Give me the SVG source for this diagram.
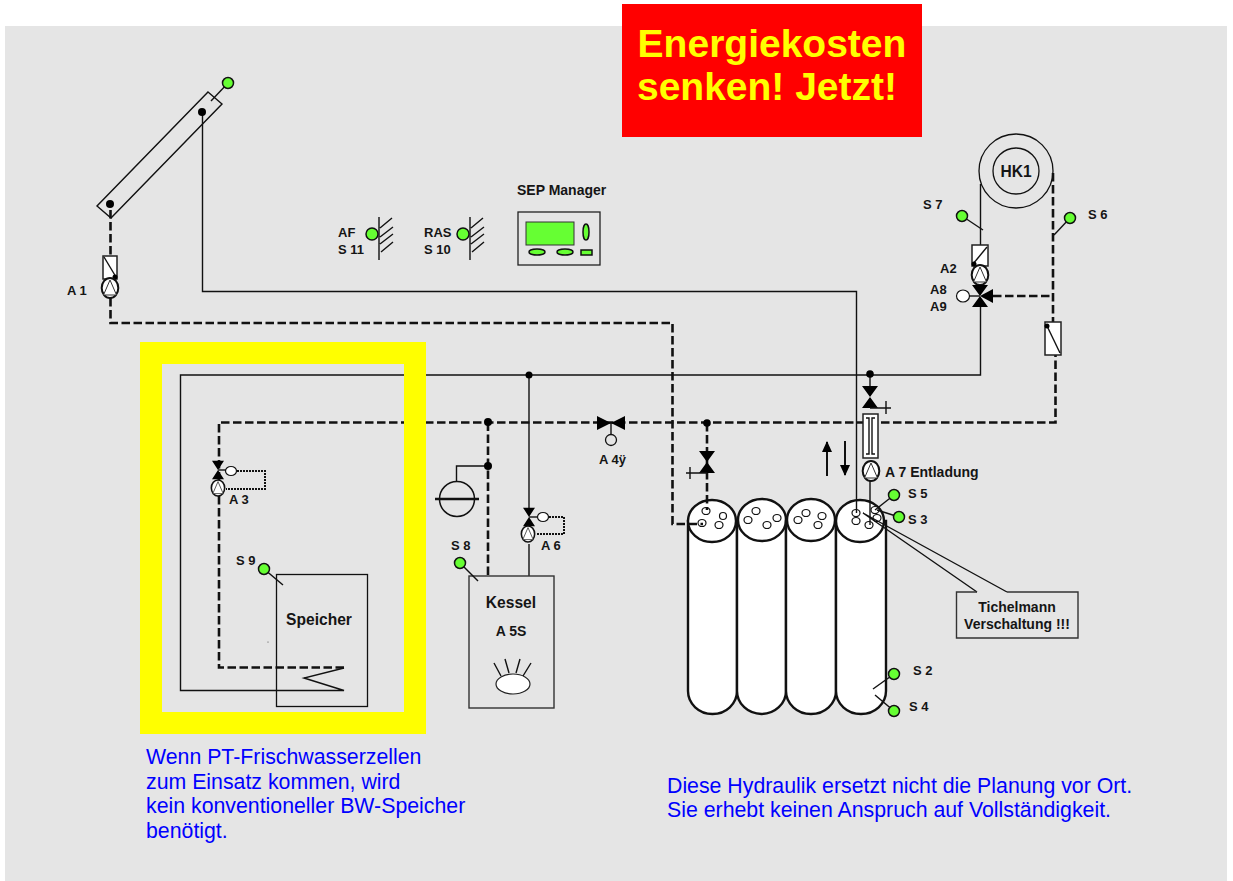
<svg xmlns="http://www.w3.org/2000/svg" width="1233" height="881" viewBox="0 0 1233 881">
<style>
text{font-family:"Liberation Sans",Arial,sans-serif;font-weight:bold;font-size:13px;fill:#151515}
.blue{font-weight:normal;font-size:21.3px;fill:#0000ff}
.big{font-size:39px;fill:#ffff00;text-anchor:middle}
.m{text-anchor:middle}
.t14{font-size:15.600px}
.l14{font-size:14px}
.s{fill:none;stroke:#111;stroke-width:1.4}
.d{fill:none;stroke:#111;stroke-width:2.6;stroke-dasharray:8.5 3.5}
.o{fill:none;stroke:#111;stroke-width:2;stroke-dasharray:2 1}
.w{fill:#fff;stroke:#222;stroke-width:1.5}
.k{fill:#000;stroke:none}
.g{fill:#66ff33;stroke:#111;stroke-width:1.5}
.h{fill:#fff;stroke:#111;stroke-width:1.2}
.tank{fill:#fff;stroke:#111;stroke-width:2.4}
.f{fill:none;stroke:#111;stroke-width:1.4}
</style>
<defs>
<g id="pump"><ellipse cx="0" cy="0" rx="8.300" ry="10" fill="#fff" stroke="#111" stroke-width="2"/><path d="M0,-8 L6.500,7 H-6.500 Z" fill="#fff" stroke="#333" stroke-width="1"/></g>
<g id="valve"><path d="M-8,-11 H8 L0,0 Z M-8,11 H8 L0,0 Z" class="k"/></g>
</defs>
<rect x="5" y="26" width="1222" height="855" fill="#e5e5e5"/>

<g id="tanks">
<path class="tank" d="M688,521 V691 A24.500,23 0 0 0 737,691 V521 Z"/><ellipse class="tank" cx="712" cy="521" rx="24" ry="21"/>
<path class="tank" d="M737,521 V691 A24.500,23 0 0 0 786,691 V521 Z"/><ellipse class="tank" cx="762" cy="520" rx="24" ry="21"/>
<path class="tank" d="M786,521 V691 A25,23 0 0 0 836,691 V521 Z"/><ellipse class="tank" cx="811" cy="520" rx="24" ry="21"/>
<path class="tank" d="M836,521 V691 A25,23 0 0 0 886,691 V521 Z"/><ellipse class="tank" cx="860" cy="521" rx="24" ry="21"/>
<g class="h">
<ellipse cx="706" cy="511" rx="4" ry="3.500"/><ellipse cx="723" cy="516" rx="3.500" ry="3.500"/><ellipse cx="702" cy="523" rx="4" ry="3.500"/><ellipse cx="719" cy="525" rx="4" ry="3.500"/>
<ellipse cx="756" cy="511" rx="4" ry="3.500"/><ellipse cx="777" cy="518" rx="4" ry="3.500"/><ellipse cx="748" cy="520" rx="4" ry="3.500"/><ellipse cx="767" cy="525" rx="4" ry="3.500"/>
<ellipse cx="806" cy="513" rx="4" ry="3.500"/><ellipse cx="822" cy="516" rx="4" ry="3.500"/><ellipse cx="798" cy="520" rx="4" ry="3.500"/><ellipse cx="818" cy="525" rx="4" ry="3.500"/>
<ellipse cx="856" cy="513" rx="4" ry="3.500"/><ellipse cx="856" cy="521" rx="4" ry="3.500"/><ellipse cx="869" cy="525" rx="4" ry="3.500"/><ellipse cx="875" cy="510" rx="4" ry="3.500"/><ellipse cx="877" cy="518" rx="4" ry="3.500"/>
</g>
</g>

<g id="connectors">
<path class="s" d="M202.500,112 V291.500 H856.500 V513"/>
<path class="s" d="M870,375 H180.500 V690.500 H344 L304,678 L344,668"/>
<path class="s" d="M980.500,307 V375 H870 V386"/>
<path class="s" d="M529,375 V509"/>
<path class="s" d="M529,544 V576"/>
<path class="s" d="M870,481 V525"/>
<path class="s" d="M980.500,184 V245"/>
<path class="s" d="M488,466 H456.500 V482"/>
<path class="d" d="M110.500,210 V256"/>
<path class="d" d="M110.500,298 V323 H672.500 V524 H703"/>
<path class="d" d="M344,667.500 H219 V422.500 H1055.500 V355"/>
<path class="d" d="M488,422.500 V576"/>
<path class="d" d="M707,423 V510"/>
<path class="d" d="M993,296 H1053"/>
<path class="d" d="M1053,173 V322"/>
<path class="o" d="M237,471 H265 V489 H226"/>
<path class="o" d="M549,517 H564 V534 H536"/>
<path class="f" d="M1007,592 L863,513 L977,592"/>
</g>

<g id="yellow-frame"><rect x="151" y="353" width="264" height="370" fill="none" stroke="#ffff00" stroke-width="22"/></g>

<g id="banner"><rect x="622" y="4" width="300" height="133" fill="#ff0000"/>
<text class="big" x="772" y="57">Energiekosten</text><text class="big" x="767" y="100">senken! Jetzt!</text></g>

<g id="collector">
<path class="f" d="M208,92 L222,104 L111,218 L97,206 Z"/>
<path class="f" d="M211,101 L228,83"/>
<circle cx="228" cy="83" r="5.500" class="g"/>
<circle cx="202" cy="112" r="4" class="k"/><circle cx="110" cy="204" r="4" class="k"/>
</g>
<g id="a1"><rect x="103" y="256" width="14" height="23" class="w"/><path class="f" d="M104,257 L116,277"/><circle cx="115" cy="277" r="2.500" class="k"/><use href="#pump" x="110" y="288"/><text x="67" y="295">A 1</text></g>

<g id="af"><circle cx="372" cy="234" r="6" class="g"/><path class="f" d="M379,217 V260 M380,228 L392,218 M380,237 L393,227 M380,244 L393,234 M381,252 L393,242"/><text x="338" y="237">AF</text><text x="338" y="254">S 11</text></g>
<g id="ras"><circle cx="463" cy="234" r="6" class="g"/><path class="f" d="M470,217 V260 M471,228 L483,218 M471,237 L484,227 M471,244 L484,234 M472,252 L484,242"/><text x="424" y="237">RAS</text><text x="424" y="254">S 10</text></g>
<g id="sep"><text class="l14" x="517" y="195">SEP Manager</text><rect x="518" y="212" width="82" height="53" fill="#e5e5e5" stroke="#222" stroke-width="1.300"/><rect x="526" y="222" width="48" height="23" fill="#66ff33" stroke="#333"/><ellipse cx="586" cy="232" rx="3" ry="8" class="g"/><ellipse cx="537" cy="252" rx="8" ry="3" class="g"/><ellipse cx="565" cy="252" rx="8" ry="3" class="g"/><rect x="581" y="250" width="11" height="5" class="g"/></g>

<g id="hk1"><circle cx="1016" cy="171" r="37" fill="none" stroke="#111" stroke-width="1.300"/><circle cx="1016" cy="171" r="23" fill="none" stroke="#111" stroke-width="1.300"/><text class="m t14" x="1016" y="177">HK1</text></g>
<g id="s7"><path class="f" d="M962,216 L983,230"/><circle cx="962" cy="216" r="5.500" class="g"/><text x="923" y="209">S 7</text></g>
<g id="s6"><path class="f" d="M1070,218 L1054,235"/><circle cx="1070" cy="218" r="5.500" class="g"/><text x="1088" y="219">S 6</text></g>
<g id="a2"><rect x="972" y="245" width="16" height="21" class="w"/><path class="f" d="M973,264 L987,247"/><circle cx="974" cy="264" r="2.500" class="k"/><use href="#pump" x="980" y="275"/><text x="940" y="273">A2</text></g>
<g id="a8"><use href="#valve" x="980" y="296"/><path class="k" d="M980,296 L993,289 V303 Z"/><path class="f" d="M969,296 H980"/><ellipse cx="963" cy="296" rx="6.500" ry="6" class="h"/><text x="930" y="294">A8</text><text x="930" y="311">A9</text></g>
<g id="mixer"><rect x="1045" y="322" width="16" height="33" class="w"/><path class="f" d="M1047,326 L1060,353"/><circle cx="1047" cy="326" r="2.500" class="k"/></g>

<g id="a3"><use href="#valve" transform="translate(218,470) scale(.75,.85)"/><path class="f" d="M218,470 H226"/><ellipse cx="231" cy="471" rx="5.500" ry="4.500" class="h"/><use href="#pump" transform="translate(218,488) scale(.8)"/><text x="229" y="504">A 3</text></g>
<g id="speicher"><rect x="276.500" y="574.500" width="91" height="132" fill="none" stroke="#111" stroke-width="1.300"/><path class="f" d="M264,569 L283,585"/><circle cx="264" cy="569" r="5.500" class="g"/><text x="236" y="565">S 9</text><text class="m t14" x="319" y="625">Speicher</text><circle cx="268" cy="642" r=".6" fill="#444"/></g>
<g id="expansion"><circle cx="457" cy="499" r="17.500" fill="none" stroke="#111" stroke-width="1.500"/><path d="M435,499 H479" stroke="#111" stroke-width="2.500"/><circle cx="488" cy="466" r="4" class="k"/><circle cx="488" cy="422" r="4" class="k"/></g>
<g id="a6"><circle cx="529" cy="375" r="3.500" class="k"/><use href="#valve" transform="translate(529,517) scale(.75,.85)"/><path class="f" d="M529,517 H537"/><ellipse cx="543" cy="517" rx="5.500" ry="4.500" class="h"/><use href="#pump" transform="translate(528,534) scale(.8)"/><text x="541" y="550">A 6</text></g>
<g id="kessel"><rect x="469" y="576" width="85" height="132" fill="none" stroke="#333" stroke-width="1.400"/><path class="f" d="M460,563 L478,581"/><circle cx="460" cy="563" r="5.500" class="g"/><text x="451" y="550">S 8</text><text class="m t14" x="511" y="608">Kessel</text><text class="m l14" x="511" y="636">A 5S</text><ellipse cx="513" cy="684" rx="17" ry="10" fill="#fff" stroke="#222" stroke-width="1.200"/><path class="f" d="M494,663 L501,676 M505,659 L509,673 M520,659 L516,673 M531,663 L523,676"/></g>
<g id="a4"><path class="k" d="M597,416 V430 L611,423 Z M625,416 V430 L611,423 Z"/><path class="f" d="M611,423 V434"/><circle cx="611" cy="440" r="5.500" fill="none" stroke="#111" stroke-width="1.300"/><text x="599" y="464">A 4ÿ</text></g>
<g id="valve-left"><circle cx="707" cy="423" r="3.800" class="k"/><use href="#valve" x="707" y="462"/><path class="f" d="M686,473 H707 M690,467 V479"/></g>
<g id="a7"><circle cx="870" cy="374" r="3.800" class="k"/><use href="#valve" x="870" y="397"/><path class="f" d="M870,408 H891 M886,401 V414"/><rect x="863" y="414" width="15" height="44" class="w"/><path class="f" d="M866,418 H869 V454 H866 M875,418 H872 V454 H875"/><use href="#pump" x="871" y="471"/><text class="l14" x="885" y="477">A 7 Entladung</text></g>
<g id="flow-arrows"><path d="M827,442 V476" stroke="#111" stroke-width="2"/><path class="k" d="M827,441 L832,452 H822 Z"/><path d="M845,441 V475" stroke="#111" stroke-width="2"/><path class="k" d="M845,476 L850,465 H840 Z"/></g>
<g id="s5"><path class="f" d="M894,495 L875,510"/><circle cx="894" cy="495" r="5.500" class="g"/><text x="908" y="498">S 5</text></g>
<g id="s3"><path class="f" d="M899,517 L877,510"/><circle cx="899" cy="517" r="5.500" class="g"/><text x="908" y="524">S 3</text></g>
<g id="s2"><path class="f" d="M894,674 L873,689"/><circle cx="894" cy="674" r="5.500" class="g"/><text x="913" y="675">S 2</text></g>
<g id="s4"><path class="f" d="M894,711 L875,695"/><circle cx="894" cy="711" r="5.500" class="g"/><text x="909" y="711">S 4</text></g>
<g id="tichelmann"><path d="M977,592 H956.500 V638 H1078 V592 H1007" fill="none" stroke="#333" stroke-width="1.400"/><text class="m l14" x="1017" y="612">Tichelmann</text><text class="m l14" x="1017" y="629">Verschaltung !!!</text></g>

<g id="notes">
<text class="blue" x="146" y="764">Wenn PT-Frischwasserzellen</text>
<text class="blue" x="146" y="789">zum Einsatz kommen, wird</text>
<text class="blue" x="146" y="813">kein konventioneller BW-Speicher</text>
<text class="blue" x="146" y="838">benötigt.</text>
<text class="blue" x="667" y="793">Diese Hydraulik ersetzt nicht die Planung vor Ort.</text>
<text class="blue" x="667" y="817">Sie erhebt keinen Anspruch auf Vollständigkeit.</text>
</g>
</svg>
